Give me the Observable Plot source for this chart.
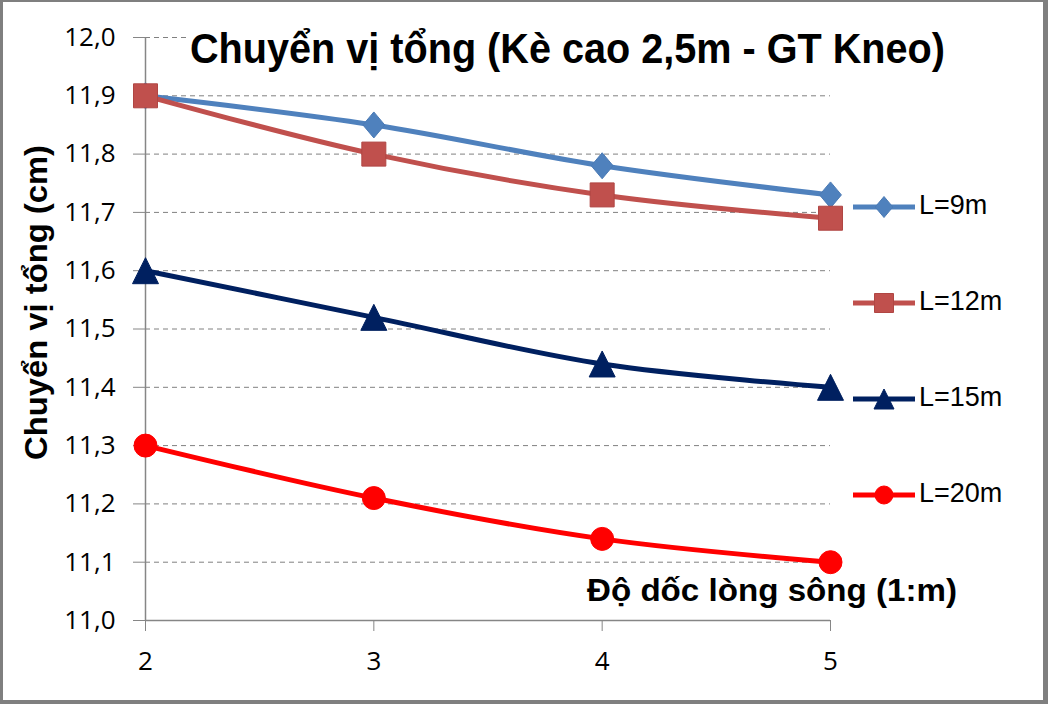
<!DOCTYPE html>
<html>
<head>
<meta charset="utf-8">
<script src="https://cdn.jsdelivr.net/npm/d3@7"></script>
<script src="https://cdn.jsdelivr.net/npm/@observablehq/plot@0.6"></script>
<style>
  html, body { margin: 0; padding: 0; background: #fff; }
  #chart svg { display: block; }
</style>
</head>
<body>
<div id="chart"></div>
<script>
// ---- data ----
const xValues = [2, 3, 4, 5];
const seriesNames = ["L=9m", "L=12m", "L=15m", "L=20m"];
const L9  = [11.90, 11.85, 11.78, 11.73];
const L12 = [11.90, 11.80, 11.73, 11.69];
const L15 = [11.60, 11.52, 11.44, 11.40];
const L20 = [11.30, 11.21, 11.14, 11.10];
const yTicks = [11.0, 11.1, 11.2, 11.3, 11.4, 11.5, 11.6, 11.7, 11.8, 11.9, 12.0];
const xTicks = [2, 3, 4, 5];
const titleText = "Chuyển vị tổng (Kè cao 2,5m - GT Kneo)";
const yLabelText = "Chuyển vị tổng (cm)";
const xLabelText = "Độ dốc lòng sông (1:m)";

// ---- styles ----
const colors = ["#4F81BD", "#C0504D", "#002060", "#FF0000"];
const strokes = ["#4A7AB5", "#B04643", "#002060", "#FF0000"];

// custom symbols (size = pi r^2 in Plot)
const diamondSym = { draw(ctx, size) { const s = Math.sqrt(size); const hx = 0.42 * s, hy = 0.5 * s;
  ctx.moveTo(0, -hy); ctx.lineTo(hx, 0); ctx.lineTo(0, hy); ctx.lineTo(-hx, 0); ctx.closePath(); } };
const squareSym = { draw(ctx, size) { const s = Math.sqrt(size) / 2;
  ctx.moveTo(-s, -s); ctx.lineTo(s, -s); ctx.lineTo(s, s); ctx.lineTo(-s, s); ctx.closePath(); } };
const triangleSym = { draw(ctx, size) { const s = Math.sqrt(size) / 2;
  ctx.moveTo(0, -s); ctx.lineTo(s, s); ctx.lineTo(-s, s); ctx.closePath(); } };
const circleSym = { draw(ctx, size) { const r = Math.sqrt(size) / 2;
  ctx.moveTo(r, 0); ctx.arc(0, 0, r, 0, 2 * Math.PI); } };
const symbols = [diamondSym, squareSym, triangleSym, circleSym];
const symSide = [26, 24, 26, 23]; // pixel extent of each marker
const rOf = side => side / Math.sqrt(Math.PI);

const seriesValues = [L9, L12, L15, L20];
const table = seriesNames.flatMap((name, i) =>
  xValues.map((x, j) => ({ series: name, idx: i, x, y: seriesValues[i][j] })));

const fmtY = d => d.toFixed(1).replace(".", ",");

const marks = [
  Plot.gridY(yTicks, { stroke: "#808080", strokeOpacity: 1, strokeWidth: 1, strokeDasharray: "5,4" }),
  Plot.ruleY([11], { stroke: "#868686", strokeWidth: 1.5 }),
  Plot.ruleX([2], { stroke: "#868686", strokeWidth: 1.5 }),
  Plot.axisY(yTicks, { tickSize: 12, tickPadding: 18, tickFormat: fmtY, stroke: "#868686", fill: "black", fontSize: 26, label: null }),
  Plot.axisX(xTicks, { tickSize: 11, tickPadding: 20, tickFormat: d => String(d), stroke: "#868686", fill: "black", fontSize: 26, label: null })
];
seriesNames.forEach((name, i) => {
  const d = table.filter(r => r.idx === i);
  marks.push(Plot.line(d, { x: "x", y: "y", stroke: colors[i], strokeWidth: 5, curve: "catmull-rom" }));
});
seriesNames.forEach((name, i) => {
  const d = table.filter(r => r.idx === i);
  marks.push(Plot.dot(d, { x: "x", y: "y", symbol: () => symbols[i], r: rOf(symSide[i]), fill: colors[i], stroke: strokes[i], strokeWidth: 1 }));
});

const svgNode = Plot.plot({
  width: 1048, height: 704,
  marginLeft: 145, marginRight: 218, marginTop: 37, marginBottom: 84,
  x: { domain: [2, 5], label: null },
  y: { domain: [11, 12], label: null },
  symbol: { type: "identity" },
  style: { fontFamily: "'Open Sans', 'Liberation Sans', sans-serif", fontSize: "26px", color: "black", background: "transparent", overflow: "visible" },
  marks
});
document.getElementById("chart").appendChild(svgNode);

const svg = d3.select(svgNode);
// frame
svg.insert("rect", ":first-child").attr("x", 3).attr("y", 2).attr("width", 1040).attr("height", 698).attr("fill", "#fff");
svg.insert("rect", ":first-child").attr("x", 0).attr("y", 0).attr("width", 1048).attr("height", 704).attr("fill", "#7f7f7f");

const labelFont = "'Liberation Sans', Arial, sans-serif";
// title
svg.append("rect").attr("x", 186).attr("y", 24).attr("width", 764).attr("height", 52).attr("fill", "#fff");
svg.append("text").text(titleText)
  .attr("x", 190).attr("y", 63).attr("text-anchor", "start")
  .attr("font-family", labelFont).attr("font-weight", "bold").attr("font-size", 42)
  .attr("textLength", 755).attr("lengthAdjust", "spacingAndGlyphs").attr("fill", "#000");

// y label
svg.append("text").text(yLabelText)
  .attr("transform", "translate(47,460) rotate(-90)").attr("text-anchor", "start")
  .attr("font-family", labelFont).attr("font-weight", "bold").attr("font-size", 32)
  .attr("textLength", 315).attr("lengthAdjust", "spacingAndGlyphs").attr("fill", "#000");

// x label
svg.append("text").text(xLabelText)
  .attr("x", 587).attr("y", 601).attr("text-anchor", "start")
  .attr("font-family", labelFont).attr("font-weight", "bold").attr("font-size", 32)
  .attr("textLength", 370).attr("lengthAdjust", "spacingAndGlyphs").attr("fill", "#000");

// legend
const legY = [207, 303, 399, 495];
const legSide = [21, 19, 20, 18];
seriesNames.forEach((name, i) => {
  const g = svg.append("g");
  g.append("line").attr("x1", 853).attr("x2", 915).attr("y1", legY[i]).attr("y2", legY[i])
    .attr("stroke", colors[i]).attr("stroke-width", 5);
  g.append("path").attr("transform", `translate(884,${legY[i]})`)
    .attr("d", d3.symbol(symbols[i], legSide[i] * legSide[i])())
    .attr("fill", colors[i]).attr("stroke", strokes[i]).attr("stroke-width", 1);
  g.append("text").text(name).attr("x", 919).attr("y", legY[i] + 7).attr("text-anchor", "start")
    .attr("font-family", labelFont).attr("font-size", 27).attr("fill", "#000");
});
</script>
</body>
</html>
